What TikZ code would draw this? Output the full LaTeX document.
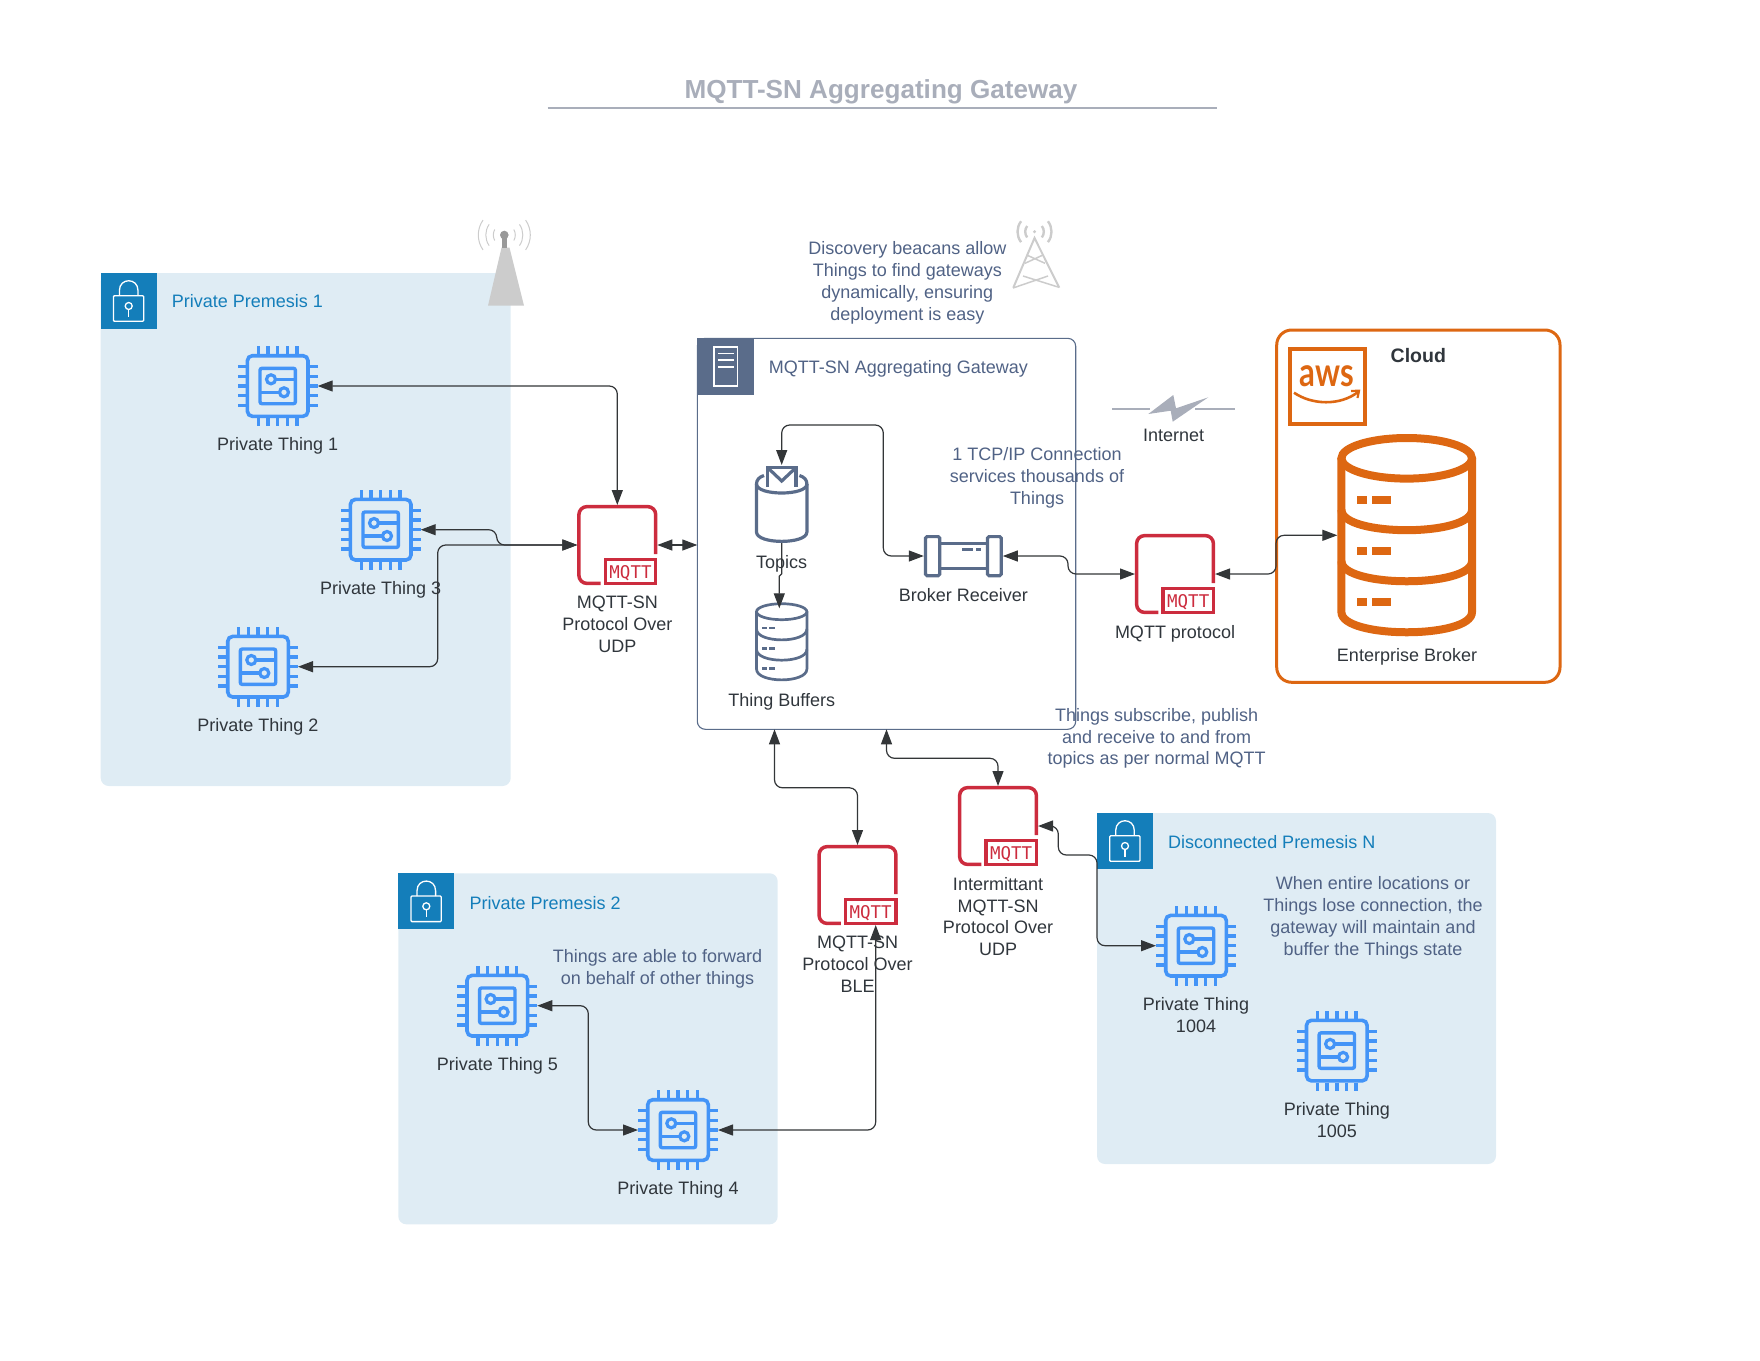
\documentclass[tikz,border=0pt]{standalone}
\usepackage{fontspec}
\setmainfont{Liberation Sans}
\newfontfamily\tagfont{DejaVu Sans Mono}
\newfontfamily\awsfont[FakeStretch=0.78]{Lato}
\usetikzlibrary{positioning, arrows.meta}
\definecolor{panelfill}{HTML}{DFECF4}
\definecolor{lockblue}{HTML}{147EBA}
\definecolor{chipblue}{HTML}{4394F7}
\definecolor{slate}{HTML}{5A6C8A}
\definecolor{notecol}{HTML}{506285}
\definecolor{awsorange}{HTML}{DD6712}
\definecolor{mqttred}{HTML}{CC2C3E}
\definecolor{textdark}{HTML}{30363C}
\definecolor{linkcol}{HTML}{333638}
\definecolor{titlegrey}{HTML}{A9AEBA}
\definecolor{towergrey}{HTML}{CCCCCC}
\tikzset{>={Triangle[length=15pt,width=11pt]}}
\tikzset{
    lab/.style={font=\fontsize{18}{21.8}\selectfont, text=textdark, align=center, inner sep=0pt},
    note/.style={font=\fontsize{18}{21.8}\selectfont, text=notecol, align=center, inner sep=0pt},
    premlab/.style={font=\fontsize{18}{21.8}\selectfont, text=lockblue, inner sep=0pt},
    panel/.style={fill=panelfill, rounded corners=8pt, minimum width=#1, inner sep=0pt, outer sep=0pt, anchor=north west},
    locksq/.style={fill=lockblue, minimum size=56pt, inner sep=0pt, outer sep=0pt, anchor=north west},
    iconbox/.style={minimum size=80pt, inner sep=0pt, outer sep=0pt},
    chipline/.style={draw=chipblue, line width=3.6pt},
    link/.style={draw=linkcol, line width=1.2pt, rounded corners=8pt},
    lockicon/.pic={
        \draw[white, line width=1.3pt, rounded corners=1pt](-15.3,-5.3) rectangle (15,20.3);
        \draw[white, line width=1.3pt](-9.3,-5.3)--(-9.3,-10.5).. controls (-9.3,-23.5) and (9.3,-23.5) .. (9.3,-10.5)--(9.3,-5.3);
        \draw[white, line width=1.3pt](0,5) circle[radius=3.5];
        \draw[white, line width=1.3pt](0,8.5)--(0,15.7);
    },
    chipicon/.pic={
        \draw[chipline, rounded corners=5pt](-30.3,-30.3) rectangle (30.3,30.3);
        \draw[chipline, line width=3.4pt, rounded corners=2pt](-17.7,-17.7) rectangle (17.7,17.7);
        \draw[chipline, line width=3.2pt](-6.7,-6.7) circle[radius=4.5];
        \draw[chipline, line width=3.2pt](6.3,6.3) circle[radius=4.5];
        \draw[chipline, line width=3.2pt](-2.2,-6.7)--(17.7,-6.7);
        \draw[chipline, line width=3.2pt](-17.7,6.3)--(1.8,6.3);
        \foreach \k in {-19.3,-9.65,0,9.65,19.3}{
            \draw[chipline, line width=3.4pt](\k,-32)--(\k,-40);
            \draw[chipline, line width=3.4pt](\k,32)--(\k,40);
            \draw[chipline, line width=3.4pt](-32,\k)--(-40,\k);
            \draw[chipline, line width=3.4pt](32,\k)--(40,\k);
        }
    },
    mqtticon/.pic={
        \draw[mqttred, line width=3.5pt, rounded corners=8pt](-16.7,38.4)--(-38.4,38.4)--(-38.4,-38.4)--(38.4,-38.4)--(38.4,9);
        \draw[mqttred, line width=3.5pt](-12,14.7) rectangle (38.4,38.4);
        \node[text=mqttred, inner sep=0pt, font=\tagfont\fontsize{17.5}{17.5}\selectfont] (-tag) at (13.2,28) {MQTT};
    },
}
\newcommand{\privthing}[3]{
    \node[iconbox] (#1) at (#2) {};
    \pic at (#1) {chipicon};
    \node[lab, below=11.5pt of #1] (#1-lab) {#3};
}
\newcommand{\mqttbox}[3]{
    \node[iconbox] (#1) at (#2) {};
    \pic (#1) at (#1) {mqtticon};
    \node[lab, below=11pt of #1] (#1-lab) {#3};
}
\begin{document}
\begin{tikzpicture}[x=1pt, y=-1pt]
    \useasboundingbox (0,0) rectangle (1760,1360);

    \node[font=\bfseries\fontsize{26.1}{30}\selectfont, text=titlegrey, inner sep=0pt] (title) at (881,91.5) {MQTT-SN Aggregating Gateway};
    \draw[titlegrey, line width=2pt](547.7,107.8)--(1216.7,107.8);

    \node[panel=410pt, minimum height=513pt] (premone) at (100.7,273) {};
    \node[locksq] (lockone) at (premone.north west) {};
    \pic at (lockone) {lockicon};
    \node[premlab, right=15pt of lockone] (premonelab) {Private Premesis 1};

    \node[panel=379.4pt, minimum height=351pt] (premtwo) at (398.3,873.3) {};
    \node[locksq] (locktwo) at (premtwo.north west) {};
    \pic at (locktwo) {lockicon};
    \node[premlab, right=15pt of locktwo, yshift=-2pt] (premtwolab) {Private Premesis 2};

    \node[panel=399pt, minimum height=351pt] (premn) at (1097,813) {};
    \node[locksq] (lockn) at (premn.north west) {};
    \pic at (lockn) {lockicon};
    \node[premlab, right=15pt of lockn, yshift=-1pt] (premnlab) {Disconnected Premesis N};

    \fill[towergrey](501.5,247.7)--(509.5,247.7)--(524,305.7)--(488,305.7)--cycle;
    \fill[gray!80](502,236)rectangle(506.7,248);
    \fill[gray!80](504.3,235)circle[radius=4.3];
    \foreach \r/\g in {11/20,18.5/25,26/25}{
        \draw[towergrey, line width=1pt]([shift={(180-\g-10:\r)}]504.3,235) arc[start angle=180-\g-10, end angle=180+\g+10, radius=\r];
        \draw[towergrey, line width=1pt]([shift={(-\g-10:\r)}]504.3,235) arc[start angle=-\g-10, end angle=\g+10, radius=\r];
    }

    \draw[towergrey, line width=2pt](1013.3,287.7)--(1034.5,238)--(1059.3,287.7);
    \draw[towergrey, line width=1.5pt](1026.7,255)--(1045,263.3)(1043,255)--(1025,263.3);
    \draw[towergrey, line width=1.5pt](1023,276)--(1058,287)(1048,276)--(1013,288);
    \fill[towergrey](1034.5,231.7)circle[radius=1.7];
    \foreach \r in {9.3,17}{
        \draw[towergrey, line width=2.4pt]([shift={(142:\r)}]1034.5,231.7) arc[start angle=142, end angle=218, radius=\r];
        \draw[towergrey, line width=2.4pt]([shift={(-38:\r)}]1034.5,231.7) arc[start angle=-38, end angle=38, radius=\r];
    }

    \node[note, anchor=north] (discnote) at (907.3,241.5) {Discovery beacans allow\\Things to find gateways\\dynamically, ensuring\\deployment is easy};

    \node[draw=slate, line width=1.1pt, rounded corners=8pt, minimum width=378.4pt, minimum height=391pt, inner sep=0pt, outer sep=0pt, anchor=north west] (gateway) at (697.3,338.3) {};
    \node[fill=slate, minimum size=56.4pt, inner sep=0pt, outer sep=0pt, anchor=north west] (gwsq) at (697.3,338.3) {};
    \draw[white, line width=1.3pt](714,347) rectangle (737.3,386);
    \draw[white, line width=1.3pt](718,353.3)--(733.5,353.3)(718,360)--(733.5,360)(718,367)--(733.5,367);
    \node[note, right=15pt of gwsq, yshift=-2pt] (gwlab) {MQTT-SN Aggregating Gateway};

    \node[minimum width=53pt, minimum height=78pt, inner sep=0pt, outer sep=0pt] (topics) at (781.7,504) {};
    \draw[slate, line width=3.2pt](756.5,484)--(756.5,532).. controls (756.5,544.5) and (806.9,544.5) .. (806.9,532)--(806.9,484);
    \draw[slate, line width=3.2pt](764,475.5).. controls (759,477) and (756.5,480) .. (756.5,484).. controls (756.5,496) and (806.9,496) .. (806.9,484).. controls (806.9,480) and (804.4,477) .. (799.4,475.5);
    \draw[slate, line width=3.2pt](767.5,487)--(767.5,467.5)--(796,467.5)--(796,487);
    \draw[slate, line width=3.2pt](767.5,467.5)--(781.7,481)--(796,467.5);
    \node[lab] (topicslab) at (781.7,564) {Topics};

    \node[minimum width=53.3pt, minimum height=79.4pt, inner sep=0pt, outer sep=0pt] (buffers) at (781.7,642) {};
    \draw[slate, line width=2.7pt](781.7,611.7) ellipse[x radius=25.2, y radius=8];
    \draw[slate, line width=2.7pt](756.5,611.7)--(756.5,669).. controls (756.5,683.5) and (806.9,683.5) .. (806.9,669)--(806.9,611.7);
    \draw[slate, line width=2.7pt](756.5,629).. controls (756.5,643.5) and (806.9,643.5) .. (806.9,629);
    \draw[slate, line width=2.7pt](756.5,649.3).. controls (756.5,663.8) and (806.9,663.8) .. (806.9,649.3);
    \foreach \d in {0,20.3,40.6}{
        \fill[slate](762,626.7+\d) rectangle (766.7,629.3+\d);
        \fill[slate](768.7,626.7+\d) rectangle (775,629.3+\d);
    }
    \node[lab] (bufferslab) at (781.7,702) {Thing Buffers};

    \node[minimum width=79pt, minimum height=42.3pt, inner sep=0pt, outer sep=0pt] (receiver) at (963.3,556) {};
    \draw[slate, line width=3.2pt, rounded corners=1.5pt](925.5,536.6) rectangle (939.7,575.7);
    \draw[slate, line width=3.2pt, rounded corners=1.5pt](987.5,536.6) rectangle (1001.2,575.7);
    \draw[slate, line width=3.2pt](939.7,543.5)--(987.5,543.5)(939.7,568.5)--(987.5,568.5);
    \fill[slate](962,547.8) rectangle (972.7,550.5);
    \fill[slate](976,547.8) rectangle (981,550.5);
    \node[lab] (receiverlab) at (963.4,595.5) {Broker Receiver};

    \node[note, anchor=north] (tcpnote) at (1037,447.5) {1 TCP/IP Connection\\services thousands of\\Things};
    \node[note, anchor=north] (subnote) at (1156.7,708) {Things subscribe, publish\\and receive to and from\\topics as per normal MQTT};
    \node[note, anchor=north] (forwardnote) at (657.5,949) {Things are able to forward\\on behalf of other things};
    \node[note, anchor=north] (whennote) at (1373,876.5) {When entire locations or\\Things lose connection, the\\gateway will maintain and\\buffer the Things state};

    \draw[titlegrey, line width=2.8pt](1112,409)--(1150,409);
    \draw[titlegrey, line width=2.8pt](1195,409)--(1235,409);
    \fill[titlegrey](1148.3,414)--(1173.3,395)--(1176,408.3)--(1208.3,397.3)--(1172.7,421.7)--(1170.7,410.7)--cycle;
    \node[lab] (internetlab) at (1173.7,435) {Internet};

    \node[draw=awsorange, line width=3pt, rounded corners=15pt, minimum width=283.3pt, minimum height=352.3pt, inner sep=0pt, outer sep=0pt, anchor=north west] (cloud) at (1276.7,330) {};
    \node[lab, font=\bfseries\fontsize{19.5}{22}\selectfont] (cloudlab) at (1418.3,356) {Cloud};
    \draw[awsorange, line width=4pt](1289.5,348.5) rectangle (1365,424);
    \node[text=awsorange, inner sep=0pt, font=\awsfont\bfseries\fontsize{40}{40}\selectfont] (awslab) at (1326.7,376) {aws};
    \draw[awsorange, line width=2.6pt](1294,392.7).. controls (1312,405) and (1340,406) .. (1358,392);
    \draw[awsorange, line width=2.2pt](1351,391)--(1359,390.7)--(1357.5,398);

    \node[minimum width=138.7pt, minimum height=202.7pt, inner sep=0pt, outer sep=0pt] (ebroker) at (1406.7,535.3) {};
    \draw[awsorange, line width=8pt](1406.7,458.3) ellipse[x radius=65.3, y radius=20.3];
    \draw[awsorange, line width=8pt](1341.4,458.3)--(1341.4,612).. controls (1341.4,639) and (1472,639) .. (1472,612)--(1472,458.3);
    \draw[awsorange, line width=8pt](1341.4,509.7).. controls (1341.4,537) and (1472,537) .. (1472,509.7);
    \draw[awsorange, line width=8pt](1341.4,561).. controls (1341.4,588) and (1472,588) .. (1472,561);
    \foreach \d in {0,51.3,102.6}{
        \fill[awsorange](1357,495.7+\d) rectangle (1367.3,503.7+\d);
        \fill[awsorange](1372.3,495.7+\d) rectangle (1390.7,503.7+\d);
    }
    \node[lab] (ebrokerlab) at (1407,656.5) {Enterprise Broker};

    \privthing{thingone}{277.7,386}{Private Thing 1}
    \privthing{thingthree}{380.7,529.7}{Private Thing 3}
    \privthing{thingtwo}{258,666.7}{Private Thing 2}
    \privthing{thingfive}{497.3,1005.7}{Private Thing 5}
    \privthing{thingfour}{678,1130}{Private Thing 4}
    \privthing{thingk}{1196,945.7}{Private Thing\\1004}
    \privthing{thingkk}{1336.8,1050.6}{Private Thing\\1005}

    \mqttbox{udp}{617.3,545}{MQTT-SN\\Protocol Over\\UDP}
    \mqttbox{ble}{857.5,885}{MQTT-SN\\Protocol Over\\BLE}
    \mqttbox{interm}{998,826}{Intermittant\\MQTT-SN\\Protocol Over\\UDP}
    \mqttbox{mqttp}{1175,574}{MQTT protocol}

    \draw[link, <->](thingone.east)-|(udp.north);
    \draw[link, <->](thingthree.east)--(496.7,529.7)--(496.7,545)--(udp.west);
    \draw[link, <->](thingtwo.east)-|(437.7,545)--(udp.west);
    \draw[link, <->](udp.east)--(udp.east-|gateway.west);
    \draw[link, <->](topics.north)--(781.7,425)-|(883.3,556)--(receiver.west);
    \draw[link, ->, rounded corners=1.2pt](topics.south)--++(0,32)--([xshift=-2.4pt,yshift=27.3pt]buffers.north)--([xshift=-2.4pt,yshift=-6pt]buffers.north);
    \draw[link, <->](receiver.east)--(1068,556)--(1068,574)--(mqttp.west);
    \draw[link, <->](mqttp.east)--(1276,574)--(1276,535.3)--(ebroker.west);
    \draw[link, <->]([xshift=-112pt]gateway.south)--++(0,58.5)-|(ble.north);
    \draw[link, <->](gateway.south)--++(0,29)-|(interm.north);
    \draw[link, <->](interm.east)--(1058.3,826)--(1058.3,855)--(1097,855)|-(thingk.west);
    \draw[link, <->](thingfour.east)-|([xshift=18.2pt]ble.south);
    \draw[link, <->](thingfive.east)--(588.3,1005.7)|-(thingfour.west);
\end{tikzpicture}
\end{document}
